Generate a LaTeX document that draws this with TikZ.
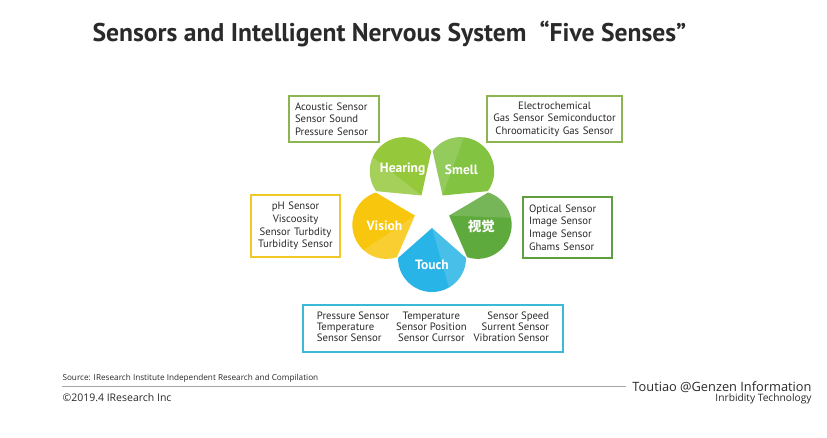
\documentclass[tikz,border=0pt]{standalone}
\usepackage{fontspec}
\setmainfont{PT Sans}
\newfontfamily\footfont{Open Sans}
\newfontfamily\cjkfont{Noto Sans CJK SC}
\usetikzlibrary{calc}

\definecolor{hearcol}{HTML}{96C83C}
\definecolor{smellcol}{HTML}{82C341}
\definecolor{visiohcol}{HTML}{F8C60C}
\definecolor{sightcol}{HTML}{5FAA3C}
\definecolor{touchcol}{HTML}{28B4E6}
\definecolor{greenline}{HTML}{8CB450}
\definecolor{darkline}{HTML}{5F9F3F}
\definecolor{yellowline}{HTML}{F0C828}
\definecolor{cyanline}{HTML}{3CB9D7}
\definecolor{inktext}{HTML}{2A2A2A}

\tikzset{
  sensorbox/.style={draw=#1, line width=1.3pt, fill=white, inner xsep=6pt, inner ysep=4pt,
    text=inktext, font=\fontsize{10.7}{12.6}\selectfont},
  sense/.style={text=white, font=\bfseries\fontsize{13.5}{13.5}\selectfont},
  foot/.style={text=inktext, font=\footfont\fontsize{#1}{#1}\selectfont},
}

% one petal: angle round the centre, colour
\newcommand{\petal}[2]{%
  \begin{scope}[shift={($(C)+(#1:48)$)}, rotate=#1+180]
    \fill[#2] (30,0) -- (90:34) arc[start angle=90, end angle=270, radius=34] -- cycle;
    \fill[white, opacity=.15] (30,0) -- (-90:34) arc[start angle=-90, end angle=-150, radius=34] -- cycle;
  \end{scope}}

\begin{document}
\begin{tikzpicture}[x=1pt, y=1pt]
  \useasboundingbox[fill=white] (0,0) rectangle (827,-437);

  \node[anchor=west, text=inktext, font=\bfseries\fontsize{25.6}{26}\selectfont] (title) at (89,-34)
    {Sensors and Intelligent Nervous System ~“Five Senses”};

  % the five petals
  \coordinate (C) at (432,-210);
  \petal{126}{hearcol}
  \petal{54}{smellcol}
  \petal{198}{visiohcol}
  \petal{342}{sightcol}
  \petal{270}{touchcol}

  \node[sense] (hearing) at ($(C)+(126:50)$) {Hearing};
  \node[sense] (smell) at ($(C)+(54:50)$) {Smell};
  \node[sense] (visioh) at ($(C)+(198:50)$) {Visioh};
  \node[sense] (sight) at ($(C)+(342:52)$) {\cjkfont 视觉};
  \node[sense] (touch) at ($(C)+(270:55)$) {Touch};

  % sensor boxes
  \node[sensorbox=greenline, text width=78pt, align=left, minimum height=46pt] (hearbox) at (334,-119)
    {Acoustic Sensor\\Sensor Sound\\Pressure Sensor};
  \node[sensorbox=greenline, text width=123pt, align=center, minimum height=46pt] (smellbox) at (554.5,-119)
    {Electrochemical\\Gas Sensor Semiconductor\\Chroomaticity Gas Sensor};
  \node[sensorbox=yellowline, text width=77pt, align=center, minimum height=62pt] (visiohbox) at (295.5,-226)
    {pH Sensor\\Viscoosity\\Sensor Turbdity\\Turbidity Sensor};
  \node[sensorbox=darkline, text width=77pt, align=left, minimum height=61pt] (sightbox) at (567.5,-227.5)
    {Optical Sensor\\Image Sensor\\Image Sensor\\Ghams Sensor};
  \node[sensorbox=cyanline, minimum width=260pt, minimum height=47pt] (touchbox) at (433,-328.5)
    {\renewcommand{\arraystretch}{0.88}\setlength{\tabcolsep}{3.5pt}%
     \begin{tabular}{@{}lcr@{}}
       Pressure Sensor & Temperature & Sensor Speed\\
       Temperature & Sensor Position & Surrent Sensor\\
       Sensor Sensor & Sensor Currsor & Vibration Sensor
     \end{tabular}};

  % footer
  \node[anchor=west, foot=8.2] (source) at (59,-378)
    {Source: IResearch Institute Independent Research and Compilation};
  \node[anchor=west, foot=10.5] (copyright) at (59,-398)
    {©2019.4 IResearch Inc};
  \draw[gray!70, line width=0.8pt] (62,-386) -- (626,-386);
  \node[anchor=east, foot=12.8] (brand) at (815,-387)
    {Toutiao @Genzen Information};
  \node[anchor=east, foot=10.2] (brandsub) at (815,-399)
    {Inrbidity Technology};
\end{tikzpicture}
\end{document}
